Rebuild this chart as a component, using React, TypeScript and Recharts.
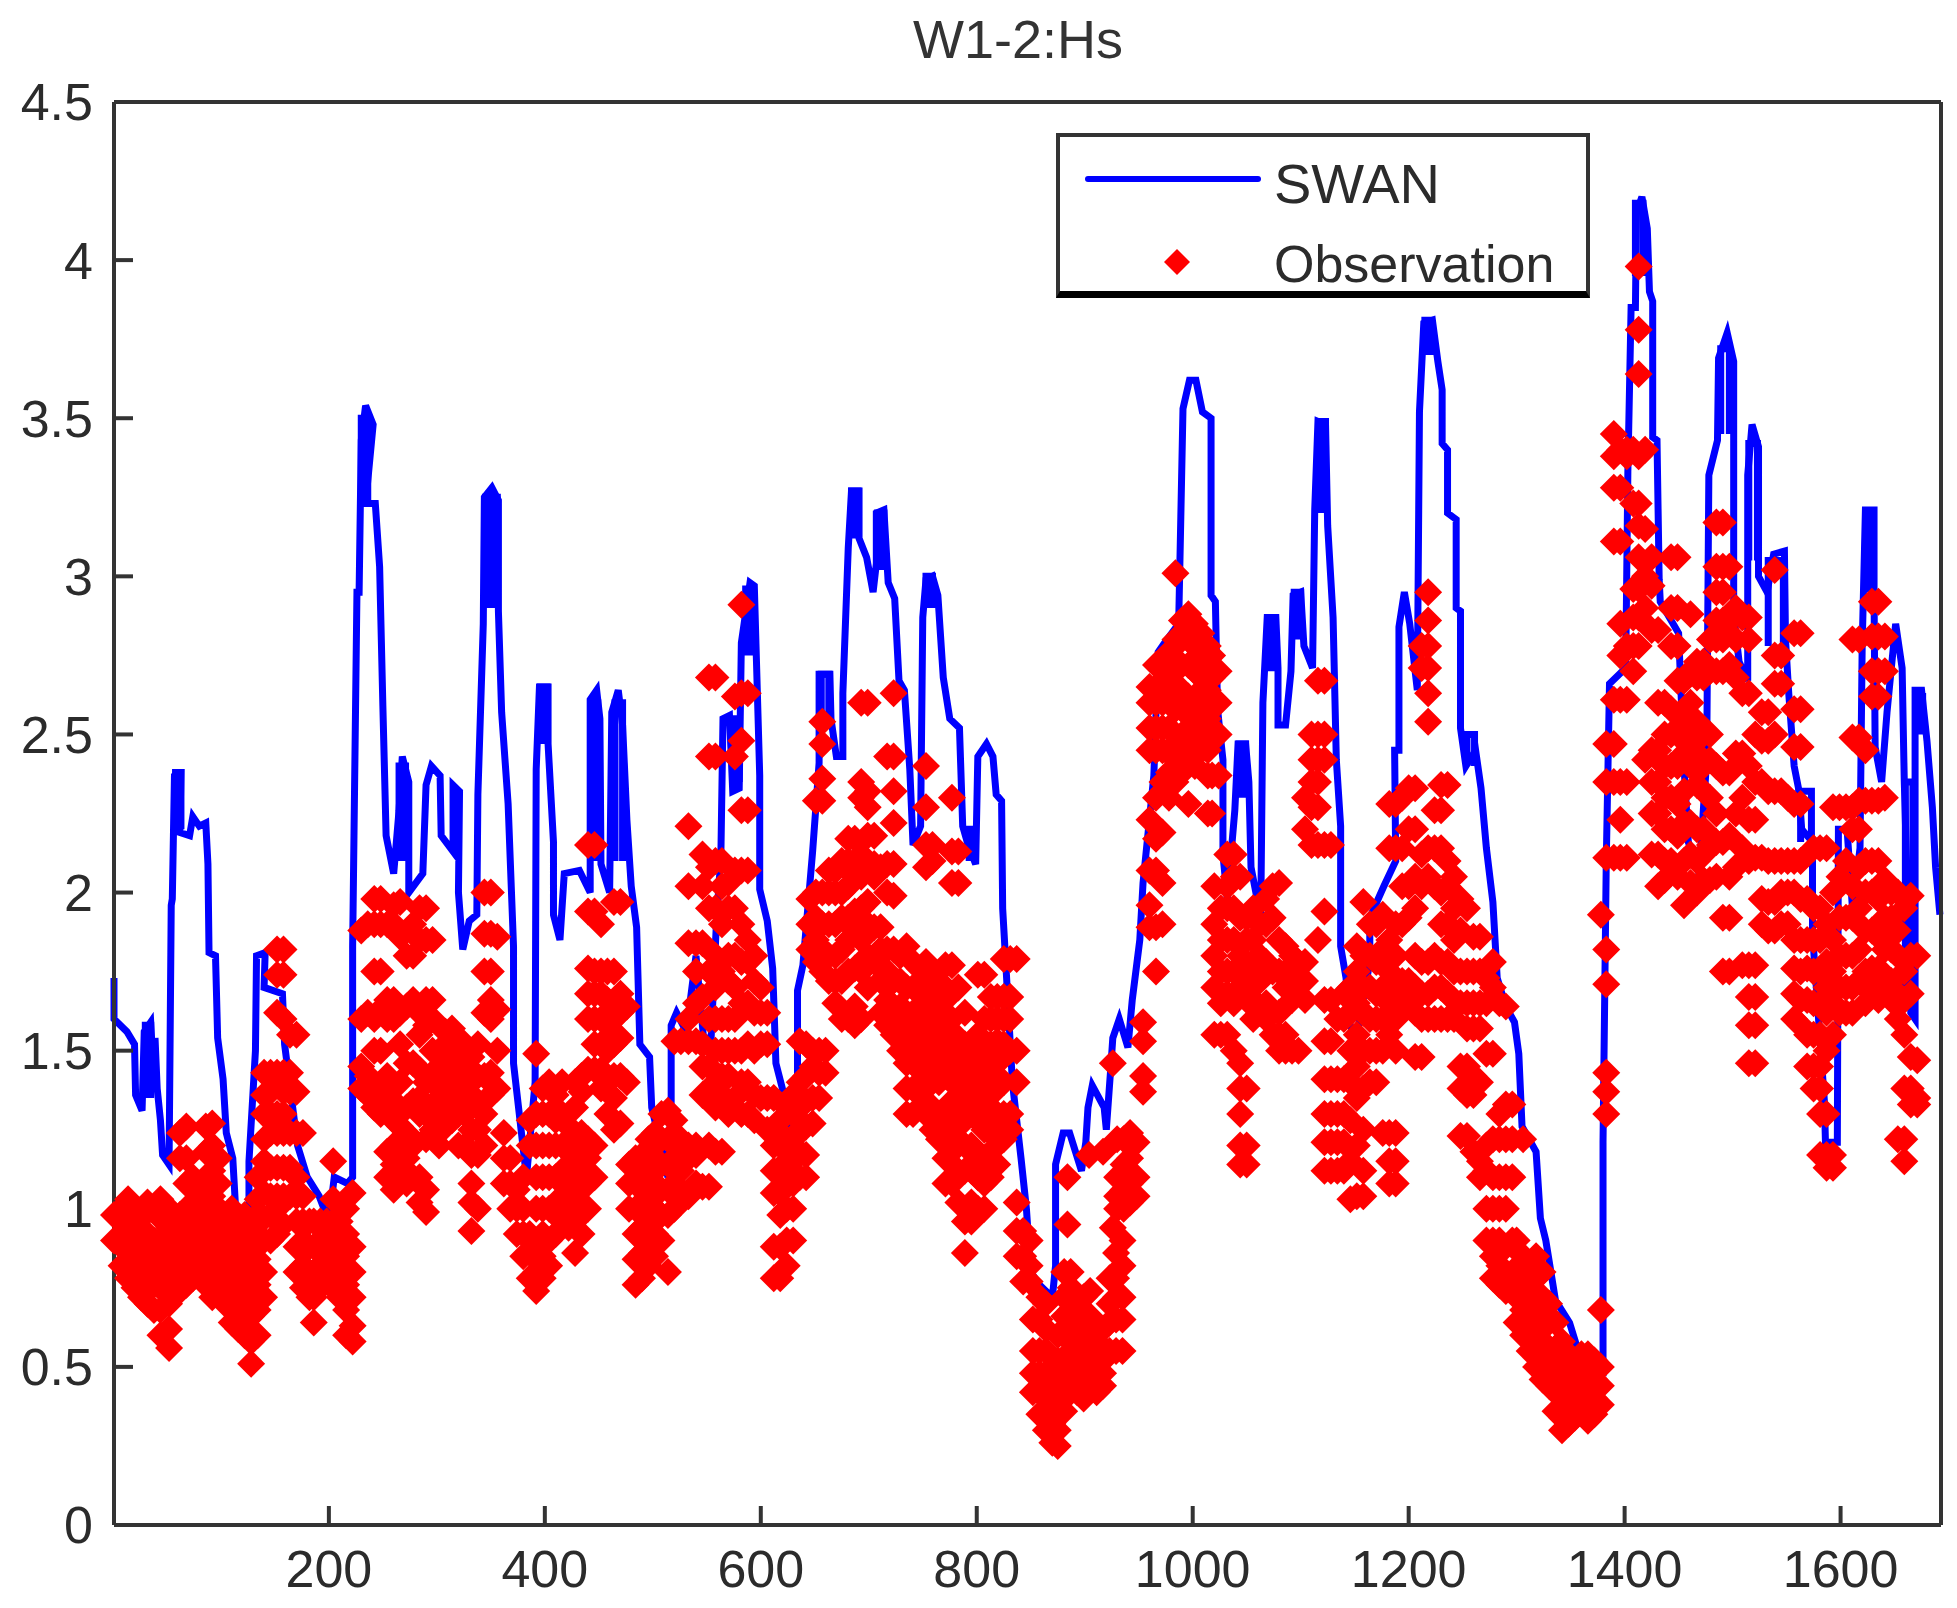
import { ComposedChart, Line, Scatter, XAxis, YAxis, Legend } from "recharts";

const xTicks = [200, 400, 600, 800, 1000, 1200, 1400, 1600];
const yTicks = [0, 0.5, 1, 1.5, 2, 2.5, 3, 3.5, 4, 4.5];

// SWAN model
const swanX = [
  1, 1, 13, 20, 21, 27, 29, 35, 38, 39, 41, 44, 46, 52, 54, 55, 57, 60, 63, 62, 71, 74, 80, 86, 88, 89, 95, 97, 102, 105, 111, 114, 120, 126, 126, 132, 133, 141, 140, 157, 159, 171, 180, 191, 200, 205, 217, 222, 222, 226, 228, 230, 234, 241, 234, 243, 247, 250, 253, 260, 265, 268, 274, 274, 287, 290, 295, 303, 304, 315, 315, 321, 320, 324, 330, 337, 338, 343, 344, 351, 357, 357, 360, 366, 371, 371, 377, 383, 391, 392, 395, 403, 403, 408, 408, 414, 418, 432, 442, 442, 448, 451, 452, 460, 462, 468, 472, 476, 480, 485, 488, 497, 499, 514, 517, 517, 522, 531, 540, 547, 554, 559, 563, 565, 571, 574, 580, 582, 590, 594, 596, 599, 599, 606, 611, 614, 620, 630, 634, 634, 639, 648, 654, 654, 664, 665, 670, 676, 676, 681, 684, 691, 691, 698, 704, 707, 707, 714, 718, 724, 728, 733, 738, 741, 748, 750, 753, 759, 764, 769, 775, 784, 787, 792, 799, 801, 809, 815, 818, 823, 824, 827, 833, 841, 846, 850, 858, 870, 873, 873, 880, 886, 897, 901, 903, 907, 918, 920, 924, 926, 932, 940, 944, 951, 954, 964, 968, 974, 987, 989, 991, 997, 1003, 1009, 1017, 1017, 1021, 1023, 1028, 1028, 1032, 1039, 1042, 1049, 1052, 1054, 1063, 1065, 1069, 1077, 1079, 1079, 1086, 1091, 1093, 1100, 1103, 1111, 1113, 1116, 1123, 1125, 1130, 1133, 1137, 1137, 1142, 1145, 1151, 1164, 1164, 1177, 1188, 1187, 1191, 1191, 1196, 1201, 1208, 1210, 1214, 1222, 1227, 1231, 1231, 1236, 1236, 1244, 1244, 1248, 1248, 1253, 1262, 1267, 1272, 1278, 1282, 1290, 1298, 1302, 1305, 1318, 1322, 1327, 1336, 1349, 1358, 1380, 1380, 1383, 1386, 1401, 1403, 1406, 1410, 1411, 1416, 1421, 1423, 1426, 1426, 1430, 1432, 1433, 1450, 1453, 1453, 1459, 1469, 1476, 1478, 1486, 1487, 1495, 1501, 1501, 1506, 1514, 1514, 1518, 1524, 1524, 1532, 1538, 1548, 1549, 1552, 1557, 1561, 1564, 1574, 1574, 1585, 1586, 1597, 1598, 1606, 1611, 1618, 1620, 1623, 1631, 1631, 1632, 1638, 1643, 1651, 1657, 1659, 1665, 1669, 1669, 1675, 1680, 1685, 1688, 1692,
];
const swanY = [
  1.73, 1.6, 1.56, 1.52, 1.36, 1.31, 1.56, 1.59, 1.4, 1.54, 1.38, 1.28, 1.17, 1.14, 1.96, 1.98, 2.37, 2.38, 2.38, 2.19, 2.18, 2.24, 2.21, 2.22, 2.09, 1.81, 1.8, 1.54, 1.41, 1.24, 1.16, 0.98, 0.95, 0.84, 1.15, 1.5, 1.8, 1.81, 1.7, 1.68, 1.52, 1.2, 1.1, 1.04, 0.96, 1.1, 1.08, 1.1, 1.83, 2.95, 2.95, 3.43, 3.54, 3.48, 3.23, 3.23, 3.03, 2.59, 2.18, 2.06, 2.26, 2.43, 2.35, 2.0, 2.06, 2.34, 2.4, 2.37, 2.18, 2.13, 2.34, 2.32, 2.0, 1.82, 1.91, 1.93, 2.31, 2.85, 3.25, 3.28, 3.24, 2.89, 2.57, 2.28, 1.83, 1.46, 1.28, 1.1, 1.4, 2.39, 2.65, 2.65, 2.47, 2.16, 1.93, 1.85, 2.06, 2.07, 2.0, 2.61, 2.64, 2.55, 2.09, 2.0, 2.57, 2.64, 2.53, 2.23, 2.02, 1.89, 1.52, 1.48, 1.32, 1.1, 1.34, 1.58, 1.62, 1.56, 1.8, 1.54, 1.54, 1.91, 2.11, 2.55, 2.56, 2.32, 2.33, 2.79, 2.98, 2.97, 2.73, 2.37, 2.01, 1.91, 1.76, 1.46, 1.38, 1.22, 1.4, 1.69, 1.77, 2.13, 2.41, 2.69, 2.69, 2.55, 2.43, 2.43, 2.63, 3.09, 3.27, 3.27, 3.12, 3.06, 2.95, 3.04, 3.2, 3.21, 2.98, 2.93, 2.67, 2.64, 2.39, 2.15, 2.21, 2.87, 2.99, 3.0, 2.94, 2.68, 2.55, 2.52, 2.21, 2.15, 2.09, 2.43, 2.47, 2.43, 2.31, 2.29, 1.95, 1.77, 1.4, 1.16, 1.0, 0.8, 0.76, 0.72, 0.82, 1.14, 1.24, 1.24, 1.12, 1.21, 1.32, 1.39, 1.32, 1.25, 1.44, 1.54, 1.6, 1.51, 1.66, 1.85, 2.03, 2.37, 2.76, 2.79, 2.85, 3.19, 3.53, 3.62, 3.62, 3.52, 3.5, 2.94, 2.92, 2.58, 2.42, 2.12, 1.98, 2.26, 2.47, 2.47, 2.35, 2.08, 1.92, 2.6, 2.87, 2.87, 2.71, 2.53, 2.53, 2.7, 2.94, 2.95, 2.78, 2.71, 3.21, 3.49, 3.48, 3.16, 2.87, 2.42, 2.21, 1.83, 1.73, 1.59, 1.53, 1.78, 1.92, 2.02, 2.1, 2.45, 2.45, 2.84, 2.95, 2.85, 2.64, 3.52, 3.8, 3.81, 3.68, 3.59, 3.42, 3.4, 3.2, 3.18, 2.9, 2.89, 2.52, 2.4, 2.45, 2.33, 2.14, 1.97, 1.73, 1.64, 1.59, 1.49, 1.26, 1.18, 0.97, 0.9, 0.71, 0.64, 0.54, 0.49, 1.21, 2.1, 2.66, 2.71, 3.33, 3.85, 3.85, 4.15, 4.2, 4.1, 3.9, 3.87, 3.44, 3.43, 2.99, 2.92, 2.82, 2.57, 2.52, 2.16, 2.06, 2.42, 3.32, 3.43, 3.69, 3.77, 3.68, 2.88, 2.73, 2.67, 3.32, 3.48, 3.41, 3.0, 2.95, 3.07, 3.08, 2.8, 2.63, 2.4, 2.33, 2.2, 2.16, 1.87, 1.34, 1.21, 1.21, 2.2, 2.2, 1.95, 2.14, 2.78, 3.21, 3.21, 2.95, 2.46, 2.35, 2.57, 2.85, 2.71, 2.35, 1.62, 1.6, 2.64, 2.64, 2.48, 2.27, 2.08, 1.93,
];

// stretches where the SWAN line doubles back on itself: from x, to x, low, high
const swanRidges: [number, number, number, number][] = [
  [30, 35, 1.35, 1.58],
  [58, 63, 2.2, 2.38],
  [230, 236, 3.23, 3.5],
  [265, 271, 2.1, 2.4],
  [345, 350, 2.9, 3.25],
  [351, 356, 2.9, 3.25],
  [396, 402, 2.47, 2.65],
  [443, 449, 2.1, 2.6],
  [465, 472, 2.1, 2.6],
  [575, 580, 2.35, 2.55],
  [586, 592, 2.75, 2.96],
  [656, 663, 2.55, 2.69],
  [684, 690, 3.12, 3.27],
  [708, 714, 3.02, 3.2],
  [753, 759, 2.9, 3.0],
  [793, 798, 2.1, 2.2],
  [1043, 1049, 2.3, 2.47],
  [1070, 1076, 2.7, 2.87],
  [1094, 1100, 2.8, 2.95],
  [1117, 1123, 3.2, 3.49],
  [1215, 1221, 3.7, 3.81],
  [1254, 1261, 2.4, 2.5],
  [1410, 1417, 3.95, 4.18],
  [1489, 1497, 3.45, 3.72],
  [1515, 1523, 3.05, 3.42],
  [1533, 1547, 2.78, 3.05],
  [1624, 1630, 2.95, 3.19],
  [1563, 1573, 2.16, 2.32],
  [1660, 1667, 1.7, 2.35],
  [1670, 1676, 2.5, 2.62],
];

// Observation values, one x with the values stacked above it
const obsColumns: [number, number[]][] = [
  [1, [0.9, 0.98]],
  [8, [0.82, 0.9, 1.0]],
  [14, [0.78, 0.86, 0.94, 1.03]],
  [20, [0.75, 0.85, 0.93, 1.0]],
  [26, [0.72, 0.8, 0.88, 0.97]],
  [32, [0.7, 0.78, 0.85, 0.92, 1.02]],
  [38, [0.68, 0.76, 0.84, 0.9, 1.0]],
  [44, [0.6, 0.68, 0.75, 0.82, 0.9, 0.97, 1.03]],
  [52, [0.56, 0.62, 0.7, 0.78, 0.86, 0.94, 1.0]],
  [62, [0.74, 0.82, 0.9, 0.98, 1.16, 1.24]],
  [68, [0.76, 0.85, 0.93, 1.0, 1.08, 1.16, 1.26]],
  [74, [0.78, 0.86, 0.94, 1.02, 1.1]],
  [80, [0.8, 0.88, 0.96, 1.04]],
  [86, [0.76, 0.84, 0.92, 1.0, 1.08, 1.18, 1.26]],
  [92, [0.72, 0.8, 0.88, 0.96, 1.04, 1.12, 1.2, 1.27]],
  [98, [0.76, 0.84, 0.92, 1.0, 1.08, 1.16]],
  [104, [0.7, 0.78, 0.86, 0.94]],
  [110, [0.64, 0.72, 0.8, 0.88, 0.96, 1.0]],
  [116, [0.62, 0.7, 0.78, 0.86, 0.94]],
  [122, [0.6, 0.68, 0.76, 0.84, 0.92, 0.98]],
  [128, [0.51, 0.58, 0.66, 0.74, 0.82, 0.9, 0.96]],
  [134, [0.6, 0.68, 0.76, 0.84, 0.92, 0.98, 1.03, 1.1]],
  [140, [0.72, 0.8, 0.9, 0.97, 1.05, 1.15, 1.22, 1.3, 1.36, 1.43]],
  [146, [0.9, 0.98, 1.04, 1.13, 1.24, 1.3, 1.37, 1.43]],
  [152, [0.92, 1.0, 1.04, 1.13, 1.24, 1.3, 1.43, 1.62, 1.74, 1.82]],
  [158, [0.95, 1.04, 1.13, 1.24, 1.3, 1.37, 1.43, 1.6, 1.74, 1.82]],
  [164, [1.04, 1.13, 1.24, 1.37, 1.43, 1.55]],
  [170, [0.8, 0.88, 0.96, 1.04, 1.1, 1.24, 1.37, 1.55]],
  [176, [0.75, 0.82, 0.9, 0.96, 1.04, 1.24]],
  [182, [0.72, 0.8, 0.88, 0.96]],
  [186, [0.64, 0.72, 0.8, 0.88, 0.96]],
  [192, [0.75, 0.82, 0.9, 0.96]],
  [198, [0.78, 0.85, 0.92, 0.96]],
  [204, [0.75, 0.82, 0.9, 0.96, 1.03, 1.15]],
  [210, [0.72, 0.8, 0.88, 0.96]],
  [216, [0.6, 0.68, 0.76, 0.85, 0.92, 1.0]],
  [222, [0.58, 0.63, 0.72, 0.8, 0.88, 1.05]],
  [230, [1.38, 1.45, 1.6, 1.88]],
  [236, [1.36, 1.42, 1.62, 1.9]],
  [242, [1.32, 1.4, 1.5, 1.6, 1.75, 1.9, 1.98]],
  [248, [1.3, 1.38, 1.5, 1.63, 1.75, 1.9, 1.98]],
  [254, [1.1, 1.18, 1.36, 1.42, 1.6, 1.66, 1.9]],
  [260, [1.06, 1.14, 1.2, 1.28, 1.34, 1.6, 1.66, 1.9, 1.96]],
  [266, [1.1, 1.18, 1.26, 1.4, 1.52, 1.62, 1.86, 1.97]],
  [272, [1.08, 1.16, 1.24, 1.32, 1.46, 1.64, 1.8]],
  [278, [1.1, 1.2, 1.34, 1.46, 1.66, 1.8, 1.9]],
  [284, [1.02, 1.1, 1.3, 1.35, 1.44, 1.55, 1.62, 1.85, 1.95]],
  [290, [0.99, 1.06, 1.22, 1.3, 1.4, 1.58, 1.66, 1.85, 1.95]],
  [296, [1.25, 1.32, 1.4, 1.5, 1.6, 1.66, 1.85]],
  [302, [1.2, 1.28, 1.35, 1.45, 1.5]],
  [308, [1.26, 1.32, 1.4, 1.5, 1.56]],
  [314, [1.28, 1.36, 1.44, 1.52, 1.57]],
  [320, [1.2, 1.3, 1.38, 1.46, 1.54]],
  [326, [1.2, 1.3, 1.38, 1.46, 1.5]],
  [332, [0.93, 1.02, 1.08, 1.17, 1.25, 1.34, 1.42, 1.48]],
  [338, [1.0, 1.17, 1.25, 1.34, 1.42, 1.52]],
  [344, [1.2, 1.3, 1.42, 1.62, 1.75, 1.87, 2.0]],
  [350, [1.36, 1.43, 1.6, 1.66, 1.75, 1.87, 2.0]],
  [356, [1.38, 1.5, 1.63, 1.86]],
  [362, [1.08, 1.16, 1.24]],
  [368, [1.0, 1.08, 1.16]],
  [374, [0.92, 1.0, 1.06]],
  [380, [0.85, 0.92, 1.0, 1.1]],
  [386, [0.78, 0.86, 0.92, 1.2, 1.28]],
  [392, [0.74, 0.8, 0.9, 1.0, 1.1, 1.2, 1.3, 1.49]],
  [398, [0.78, 0.85, 0.92, 1.0, 1.1, 1.2, 1.3, 1.38]],
  [404, [0.82, 0.9, 1.0, 1.1, 1.2, 1.3, 1.4]],
  [410, [0.92, 1.0, 1.1, 1.2, 1.28, 1.36]],
  [416, [0.96, 1.04, 1.12, 1.2, 1.3, 1.4]],
  [422, [0.94, 1.02, 1.1, 1.18, 1.26]],
  [428, [0.86, 0.96, 1.04, 1.12, 1.2, 1.32, 1.4]],
  [434, [0.92, 1.0, 1.08, 1.16, 1.24, 1.37, 1.42]],
  [440, [1.0, 1.08, 1.16, 1.22, 1.44, 1.6, 1.68, 1.76, 1.94, 2.15]],
  [446, [1.1, 1.2, 1.44, 1.52, 1.6, 1.68, 1.75, 1.94, 2.15]],
  [452, [1.38, 1.44, 1.52, 1.6, 1.68, 1.75, 1.9]],
  [458, [1.3, 1.4, 1.5, 1.58, 1.66, 1.75]],
  [464, [1.25, 1.35, 1.42, 1.52, 1.6, 1.64, 1.75, 1.97]],
  [470, [1.27, 1.42, 1.54, 1.62, 1.68, 1.97]],
  [476, [1.4, 1.64]],
  [478, [1.0, 1.08, 1.14]],
  [484, [0.76, 0.84, 0.92, 1.0, 1.08, 1.16]],
  [490, [0.78, 0.86, 0.94, 1.02, 1.1, 1.17]],
  [496, [0.82, 0.9, 0.98, 1.06, 1.14, 1.22]],
  [502, [0.85, 0.92, 1.0, 1.08, 1.16, 1.24]],
  [508, [0.9, 0.98, 1.06, 1.14, 1.22, 1.3]],
  [514, [0.8, 0.98, 1.06, 1.14, 1.22, 1.31]],
  [520, [1.0, 1.08, 1.16, 1.22, 1.28, 1.53]],
  [526, [1.05, 1.12, 1.18, 1.22, 1.53]],
  [533, [1.04, 1.16, 1.2, 1.53, 1.6, 1.84, 2.02, 2.21]],
  [540, [1.08, 1.17, 1.2, 1.53, 1.65, 1.75, 1.84]],
  [546, [1.07, 1.36, 1.45, 1.52, 1.67, 1.84, 2.02, 2.12]],
  [552, [1.07, 1.2, 1.36, 1.45, 1.6, 1.75, 1.95, 2.08, 2.43, 2.68]],
  [558, [1.18, 1.32, 1.4, 1.5, 1.6, 1.7, 1.8, 1.95, 2.1, 2.43, 2.68]],
  [564, [1.18, 1.36, 1.42, 1.5, 1.6, 1.75, 1.9, 2.02, 2.1]],
  [570, [1.3, 1.42, 1.5, 1.6, 1.72, 1.8, 1.95, 2.03]],
  [576, [1.35, 1.5, 1.6, 1.7, 1.8, 1.95, 2.07, 2.43, 2.62]],
  [582, [1.3, 1.4, 1.5, 1.65, 1.78, 1.9, 2.07, 2.26, 2.48, 2.63, 2.91]],
  [588, [1.3, 1.4, 1.52, 1.65, 1.78, 1.85, 2.07, 2.26, 2.63]],
  [594, [1.28, 1.36, 1.5, 1.62, 1.72, 1.8]],
  [600, [1.35, 1.52, 1.62, 1.7]],
  [606, [1.25, 1.35, 1.52, 1.62]],
  [612, [0.78, 0.88, 1.05, 1.12, 1.2, 1.25, 1.35]],
  [618, [0.78, 0.88, 0.98, 1.05, 1.12, 1.2, 1.28]],
  [624, [0.82, 0.9, 1.0, 1.08, 1.15, 1.22, 1.32]],
  [630, [0.9, 1.0, 1.08, 1.15, 1.22, 1.3, 1.36]],
  [636, [1.1, 1.18, 1.25, 1.32, 1.4, 1.53]],
  [642, [1.1, 1.17, 1.26, 1.34, 1.42, 1.52]],
  [645, [1.82, 1.9, 1.98]],
  [648, [1.27, 1.35, 1.45, 1.5]],
  [651, [1.78, 1.85, 1.92, 2.0, 2.29]],
  [654, [1.35, 1.43, 1.5]],
  [657, [1.75, 1.82, 1.9, 2.0, 2.29, 2.36, 2.47, 2.54]],
  [660, [1.43, 1.5]],
  [663, [1.72, 1.8, 1.9, 2.0, 2.07]],
  [669, [1.65, 1.72, 1.8, 1.9, 2.0, 2.07]],
  [675, [1.6, 1.72, 1.82, 1.92, 2.0, 2.1]],
  [681, [1.6, 1.75, 1.85, 1.92, 2.02, 2.1, 2.17]],
  [687, [1.58, 1.64, 1.76, 1.88, 1.94, 2.05, 2.09, 2.17]],
  [693, [1.6, 1.75, 1.85, 1.95, 2.05, 2.12, 2.3, 2.35, 2.6]],
  [699, [1.7, 1.8, 1.9, 1.97, 2.09, 2.18, 2.27, 2.32, 2.6]],
  [705, [1.78, 1.89, 2.05, 2.09, 2.18]],
  [711, [1.62, 1.72, 1.82, 1.89, 2.08]],
  [717, [1.58, 1.66, 1.75, 1.82, 2.0, 2.09, 2.43]],
  [723, [1.55, 1.64, 1.72, 1.82, 1.99, 2.09, 2.22, 2.32, 2.43, 2.63]],
  [729, [1.5, 1.58, 1.64, 1.72, 1.8]],
  [735, [1.3, 1.38, 1.46, 1.54, 1.62, 1.7, 1.83]],
  [741, [1.3, 1.38, 1.46, 1.54, 1.62, 1.7, 1.78]],
  [747, [1.36, 1.44, 1.52, 1.6, 1.68, 1.76]],
  [753, [1.3, 1.38, 1.46, 1.54, 1.62, 1.7, 1.78, 2.08, 2.15, 2.27, 2.4]],
  [759, [1.25, 1.32, 1.42, 1.5, 1.58, 1.66, 1.75, 2.1, 2.15]],
  [765, [1.22, 1.3, 1.4, 1.48, 1.56, 1.64, 1.72]],
  [771, [1.08, 1.16, 1.3, 1.42, 1.5, 1.58, 1.66, 1.77]],
  [777, [1.08, 1.18, 1.26, 1.34, 1.42, 1.5, 1.6, 1.77, 2.03, 2.13, 2.3]],
  [783, [1.02, 1.12, 1.22, 1.3, 1.38, 1.46, 1.54, 1.7, 2.03, 2.13]],
  [789, [0.86, 0.96, 1.12, 1.2, 1.28, 1.36, 1.44, 1.52, 1.62]],
  [795, [0.96, 1.02, 1.12, 1.2, 1.3, 1.38, 1.46]],
  [801, [1.0, 1.1, 1.16, 1.28, 1.36, 1.48, 1.55, 1.74]],
  [807, [1.0, 1.08, 1.16, 1.25, 1.34, 1.42, 1.5, 1.6, 1.74]],
  [813, [1.1, 1.18, 1.26, 1.36, 1.44, 1.52, 1.6, 1.67]],
  [819, [1.14, 1.22, 1.3, 1.38, 1.46, 1.53, 1.6, 1.67]],
  [825, [1.22, 1.3, 1.4, 1.52, 1.6, 1.67, 1.79]],
  [831, [1.25, 1.3, 1.5, 1.6, 1.67, 1.79]],
  [837, [0.85, 0.93, 1.02, 1.4, 1.5, 1.79]],
  [843, [0.77, 0.85, 0.93]],
  [849, [0.77, 0.82, 0.9]],
  [852, [0.42, 0.48, 0.55, 0.65]],
  [858, [0.35, 0.42, 0.48, 0.55, 0.65, 0.72]],
  [864, [0.3, 0.35, 0.42, 0.48, 0.55, 0.62, 0.7]],
  [870, [0.26, 0.32, 0.38, 0.44, 0.5]],
  [875, [0.25, 0.3, 0.38, 0.45, 0.52, 0.6]],
  [881, [0.36, 0.42, 0.5, 0.6, 0.66, 0.72, 0.8]],
  [884, [0.95, 1.1]],
  [887, [0.42, 0.48, 0.55, 0.62, 0.68, 0.75, 0.8]],
  [893, [0.42, 0.48, 0.54, 0.6, 0.66, 0.72]],
  [899, [0.4, 0.44, 0.48, 0.54, 0.6, 0.66, 0.72]],
  [904, [1.17]],
  [905, [0.44, 0.5, 0.58, 0.66, 0.74]],
  [911, [0.42, 0.5, 0.55, 0.6]],
  [917, [0.44, 0.48, 0.52, 0.56, 0.62, 1.18]],
  [923, [0.55, 0.64, 0.7, 0.78]],
  [926, [0.94, 1.46]],
  [929, [0.55, 0.65, 0.72, 0.78, 0.86]],
  [930, [1.0, 1.04, 1.1, 1.22]],
  [935, [0.55, 0.65, 0.72, 0.82, 0.9]],
  [936, [1.0, 1.06, 1.14, 1.22]],
  [942, [1.02, 1.08, 1.16, 1.24]],
  [948, [1.04, 1.1, 1.21]],
  [954, [1.37, 1.42, 1.53, 1.59]],
  [960, [1.89, 1.96, 2.07, 2.23, 2.45, 2.52, 2.6, 2.65]],
  [966, [1.75, 1.89, 2.07, 2.17, 2.3, 2.45, 2.52, 2.6, 2.65, 2.72]],
  [972, [1.9, 2.03, 2.19, 2.35, 2.45, 2.52, 2.6, 2.66, 2.72]],
  [978, [2.3, 2.38, 2.45, 2.52, 2.6, 2.7, 2.76]],
  [984, [2.35, 2.42, 2.5, 2.58, 2.66, 2.72, 2.8, 3.01]],
  [990, [2.38, 2.44, 2.5, 2.58, 2.63, 2.72, 2.8, 2.86]],
  [996, [2.28, 2.42, 2.5, 2.56, 2.62, 2.72, 2.8, 2.88]],
  [1002, [2.4, 2.46, 2.54, 2.62, 2.7, 2.78, 2.85]],
  [1008, [2.45, 2.52, 2.6, 2.68, 2.76, 2.82]],
  [1014, [2.25, 2.37, 2.45, 2.55, 2.64, 2.72, 2.78]],
  [1018, [2.25, 2.37, 2.5, 2.6, 2.68, 2.75]],
  [1020, [1.55, 1.7, 1.8, 1.9, 2.02]],
  [1024, [2.37, 2.5, 2.6, 2.7]],
  [1026, [1.55, 1.65, 1.75, 1.85, 1.95]],
  [1032, [1.55, 1.68, 1.75, 1.85, 1.95, 2.02, 2.12]],
  [1038, [1.5, 1.65, 1.75, 1.85, 1.95, 2.05, 2.12]],
  [1044, [1.14, 1.2, 1.3, 1.38, 1.46, 1.7, 1.8, 1.92, 2.05]],
  [1050, [1.14, 1.2, 1.38, 1.66, 1.75, 1.85, 1.92]],
  [1056, [1.6, 1.66, 1.78, 1.85, 1.95]],
  [1062, [1.62, 1.72, 1.8, 1.9]],
  [1068, [1.6, 1.65, 1.78, 1.9, 1.98]],
  [1074, [1.55, 1.62, 1.75, 1.92, 2.02]],
  [1080, [1.5, 1.55, 1.62, 1.75, 1.85, 2.03]],
  [1086, [1.5, 1.55, 1.7, 1.75, 1.83]],
  [1092, [1.5, 1.66, 1.74, 1.8]],
  [1098, [1.5, 1.72, 1.78]],
  [1104, [1.66, 1.72, 1.78, 2.2, 2.3]],
  [1110, [2.15, 2.27, 2.35, 2.42, 2.5]],
  [1116, [1.85, 2.15, 2.27, 2.35, 2.42, 2.5, 2.67]],
  [1122, [1.12, 1.21, 1.3, 1.41, 1.53, 1.66, 1.94, 2.15, 2.42, 2.5, 2.67]],
  [1128, [1.12, 1.21, 1.3, 1.41, 1.53, 1.66, 2.15]],
  [1134, [1.12, 1.21, 1.3, 1.41, 1.6]],
  [1140, [1.12, 1.21, 1.3, 1.41, 1.6, 1.68]],
  [1146, [1.03, 1.15, 1.28, 1.4, 1.5, 1.62, 1.7]],
  [1152, [1.04, 1.2, 1.35, 1.45, 1.55, 1.65, 1.75, 1.83]],
  [1158, [1.04, 1.12, 1.25, 1.38, 1.5, 1.62, 1.7, 1.8, 1.97]],
  [1164, [1.4, 1.5, 1.6, 1.7, 1.8, 1.9]],
  [1170, [1.4, 1.5, 1.6, 1.68, 1.78, 1.9]],
  [1176, [1.24, 1.5, 1.6, 1.7, 1.82, 1.93]],
  [1182, [1.08, 1.15, 1.24, 1.55, 1.65, 1.75, 1.85, 2.14, 2.28]],
  [1188, [1.08, 1.15, 1.24, 1.5, 1.6, 1.7, 1.8, 1.9, 2.14, 2.28]],
  [1194, [1.66, 1.72, 1.9, 2.02, 2.14, 2.3]],
  [1200, [1.72, 1.92, 2.02, 2.2, 2.33]],
  [1206, [1.48, 1.62, 1.7, 1.8, 1.95, 2.05, 2.2, 2.33]],
  [1212, [1.48, 1.6, 1.68, 1.78, 2.02, 2.12, 2.71, 2.78]],
  [1218, [1.6, 1.68, 1.78, 2.05, 2.14, 2.54, 2.63, 2.71, 2.78, 2.86, 2.95]],
  [1224, [1.6, 1.7, 1.8, 2.02, 2.14, 2.26]],
  [1230, [1.6, 1.7, 1.78, 1.9, 2.0, 2.14, 2.26, 2.34]],
  [1236, [1.6, 1.68, 1.78, 1.9, 2.02, 2.1, 2.34]],
  [1242, [1.6, 1.66, 1.75, 1.85, 1.95, 2.05]],
  [1248, [1.23, 1.38, 1.45, 1.65, 1.75, 1.88, 1.98]],
  [1254, [1.23, 1.36, 1.45, 1.57, 1.65, 1.75, 1.95]],
  [1260, [1.18, 1.36, 1.42, 1.57, 1.65, 1.75, 1.86]],
  [1266, [1.1, 1.15, 1.4, 1.57, 1.65, 1.75, 1.86]],
  [1272, [0.9, 1.0, 1.12, 1.2, 1.49, 1.65, 1.73]],
  [1278, [0.78, 0.85, 0.9, 1.0, 1.1, 1.22, 1.49, 1.7, 1.78]],
  [1284, [0.76, 0.82, 0.9, 1.0, 1.1, 1.22, 1.3, 1.65]],
  [1290, [0.74, 0.8, 0.88, 1.0, 1.1, 1.22, 1.33, 1.64]],
  [1296, [0.74, 0.8, 0.9, 1.1, 1.22, 1.33]],
  [1300, [0.64, 0.72, 0.8, 0.9]],
  [1306, [0.6, 0.68, 0.75, 0.85, 1.22]],
  [1312, [0.55, 0.6, 0.68, 0.75, 0.82]],
  [1318, [0.5, 0.55, 0.62, 0.7, 0.78, 0.85]],
  [1324, [0.46, 0.5, 0.58, 0.65, 0.72, 0.8]],
  [1330, [0.44, 0.5, 0.56, 0.64, 0.7]],
  [1336, [0.36, 0.42, 0.5, 0.56, 0.64]],
  [1342, [0.3, 0.34, 0.4, 0.46, 0.52, 0.58]],
  [1348, [0.32, 0.36, 0.42, 0.48, 0.54]],
  [1354, [0.34, 0.4, 0.46, 0.52]],
  [1360, [0.38, 0.44, 0.5, 0.54]],
  [1366, [0.33, 0.36, 0.42, 0.48, 0.54]],
  [1372, [0.35, 0.4, 0.46, 0.52]],
  [1378, [0.38, 0.44, 0.5, 0.68, 1.93]],
  [1383, [1.3, 1.37, 1.43, 1.71, 1.82, 2.11, 2.35, 2.47]],
  [1390, [2.11, 2.35, 2.47, 2.61, 3.11, 3.28, 3.38, 3.45]],
  [1396, [2.11, 2.23, 2.35, 2.61, 2.75, 2.85, 3.11, 3.28, 3.4]],
  [1402, [2.11, 2.35, 2.61, 2.78, 3.38, 3.4]],
  [1408, [2.7, 2.78, 2.87, 2.96, 3.23, 3.4]],
  [1413, [2.78, 2.87, 2.96, 3.06, 3.16, 3.23, 3.38, 3.64, 3.78, 3.98]],
  [1419, [2.42, 2.9, 3.0, 3.15, 3.4]],
  [1425, [2.12, 2.25, 2.35, 2.45, 2.83, 2.97, 3.06]],
  [1431, [2.02, 2.12, 2.25, 2.35, 2.45, 2.6, 2.83]],
  [1437, [2.04, 2.1, 2.2, 2.3, 2.4, 2.5, 2.6]],
  [1443, [2.1, 2.2, 2.3, 2.4, 2.5, 2.58, 2.78, 2.9, 3.06]],
  [1449, [2.05, 2.18, 2.28, 2.4, 2.5, 2.67, 2.78, 2.9, 3.06]],
  [1455, [1.96, 2.1, 2.22, 2.32, 2.44, 2.54, 2.67]],
  [1461, [2.03, 2.12, 2.22, 2.4, 2.5, 2.6, 2.7, 2.88]],
  [1467, [2.0, 2.1, 2.2, 2.34, 2.44, 2.54, 2.68, 2.73]],
  [1473, [2.04, 2.12, 2.2, 2.4, 2.5, 2.68, 2.73]],
  [1479, [2.04, 2.15, 2.3, 2.42, 2.5, 2.7, 2.8]],
  [1485, [2.05, 2.16, 2.25, 2.4, 2.7, 2.8, 2.86, 2.95, 3.03, 3.17]],
  [1491, [1.75, 1.92, 2.16, 2.38, 2.7, 2.8, 2.86, 2.95, 3.03, 3.17]],
  [1497, [1.75, 1.92, 2.05, 2.18, 2.38, 2.72, 2.86, 3.03]],
  [1503, [2.08, 2.25, 2.44, 2.68, 2.8, 2.9]],
  [1509, [1.77, 2.14, 2.3, 2.44, 2.63, 2.87]],
  [1515, [1.46, 1.58, 1.67, 1.77, 2.1, 2.23, 2.4, 2.63, 2.8, 2.87]],
  [1521, [1.46, 1.58, 1.67, 1.77, 2.11, 2.23, 2.35, 2.5]],
  [1527, [1.9, 1.98, 2.11, 2.35, 2.48, 2.57]],
  [1533, [1.88, 1.97, 2.1, 2.32, 2.48, 2.57]],
  [1539, [1.88, 1.97, 2.1, 2.32, 2.5, 2.66, 2.75, 3.02]],
  [1545, [1.9, 2.0, 2.1, 2.32, 2.66, 2.75]],
  [1551, [1.9, 2.0, 2.1, 2.3]],
  [1557, [1.6, 1.68, 1.76, 1.85, 2.0, 2.1, 2.28, 2.46, 2.58, 2.82]],
  [1563, [1.58, 1.66, 1.75, 1.85, 1.98, 2.1, 2.28, 2.46, 2.58, 2.82]],
  [1569, [1.45, 1.55, 1.66, 1.76, 1.85, 1.98]],
  [1575, [1.38, 1.45, 1.55, 1.65, 1.75, 1.85, 1.95, 2.14]],
  [1581, [1.17, 1.3, 1.38, 1.45, 1.55, 1.65, 1.75, 1.85, 1.95, 2.14]],
  [1587, [1.13, 1.17, 1.3, 1.5, 1.62, 1.7, 1.78, 1.9, 2.14]],
  [1593, [1.13, 1.17, 1.55, 1.65, 1.75, 1.85, 2.0, 2.27]],
  [1599, [1.62, 1.7, 1.8, 1.92, 2.05, 2.27]],
  [1605, [1.62, 1.7, 1.8, 1.92, 2.1, 2.27]],
  [1611, [1.62, 1.7, 1.8, 1.92, 2.02, 2.2, 2.27, 2.49, 2.8]],
  [1617, [1.72, 1.82, 1.95, 2.08, 2.2, 2.29, 2.49, 2.8]],
  [1623, [1.65, 1.75, 1.88, 2.0, 2.1, 2.29, 2.45]],
  [1629, [1.68, 1.76, 1.88, 2.0, 2.1, 2.29, 2.62, 2.7, 2.81, 2.92]],
  [1635, [1.66, 1.76, 1.86, 1.98, 2.1, 2.29, 2.62, 2.7, 2.81, 2.92]],
  [1641, [1.72, 1.82, 1.92, 2.04, 2.3, 2.7, 2.81]],
  [1647, [1.66, 1.72, 1.82, 1.92, 2.0]],
  [1653, [1.22, 1.6, 1.68, 1.8, 1.88, 2.0]],
  [1659, [1.15, 1.22, 1.38, 1.55, 1.66, 1.75, 1.95]],
  [1665, [1.33, 1.38, 1.48, 1.68, 1.8, 1.99]],
  [1671, [1.33, 1.35, 1.47, 1.8]],
];

const swanData = swanX.map((x, i) => ({ x, y: swanY[i] }));
const ridgeData = swanRidges.flatMap(([x1, x2, low, high]) => [
  { x: x1, y: low },
  { x: x1, y: high },
  { x: x2, y: high },
  { x: x2, y: low },
  { x: x2, y: null },
]);
const obsData = obsColumns.flatMap(([x, ys]) => ys.map((y) => ({ x, y })));

const FONT = "'Liberation Sans', Arial, sans-serif";
const TEXT_COLOR = "#2b2b2b";
const AXIS_COLOR = "#333333";
const DIAMOND = 14;

const diamond = (props: any) => {
  const { cx, cy } = props;
  return (
    <polygon
      points={`${cx - DIAMOND},${cy} ${cx},${cy - DIAMOND} ${cx + DIAMOND},${cy} ${cx},${cy + DIAMOND}`}
      fill="#ff0000"
    />
  );
};

const legendContent = () => (
  <div
    style={{
      width: 534,
      height: 165,
      boxSizing: "border-box",
      borderTop: "4px solid #333",
      borderLeft: "4px solid #333",
      borderRight: "4px solid #333",
      borderBottom: "7px solid #000",
      background: "#fff",
      position: "relative",
      fontFamily: FONT,
      fontSize: 52,
      color: TEXT_COLOR,
      lineHeight: "60px",
    }}
  >
    <svg width={220} height={154} style={{ position: "absolute", left: 0, top: 0 }}>
      <line x1={28} y1={42} x2={198} y2={42} stroke="#0000ff" strokeWidth={6} strokeLinecap="round" />
      <polygon points="104,125 117,112 130,125 117,138" fill="#ff0000" />
    </svg>
    <span style={{ position: "absolute", left: 214, top: 17, fontSize: 56 }}>SWAN</span>
    <span style={{ position: "absolute", left: 214, top: 97 }}>Observation</span>
  </div>
);

export default function App() {
  return (
    <div style={{ position: "absolute", left: 0, top: 0, width: 1957, height: 1608, background: "#fff" }}>
      <div
        style={{
          position: "absolute",
          left: 0,
          width: 2036,
          top: 8,
          textAlign: "center",
          fontFamily: FONT,
          fontSize: 54,
          color: "#333",
        }}
      >
        W1-2:Hs
      </div>
      <ComposedChart width={1957} height={1608} margin={{ top: 0, right: 0, bottom: 0, left: 0 }}>
        <XAxis
          dataKey="x"
          type="number"
          domain={[1, 1693]}
          ticks={xTicks}
          interval={0}
          height={83}
          tickSize={-19}
          tickMargin={44}
          stroke={AXIS_COLOR}
          strokeWidth={4}
          tick={{ fontSize: 52, fontFamily: FONT, fill: TEXT_COLOR }}
        />
        <XAxis
          xAxisId="top"
          orientation="top"
          dataKey="x"
          type="number"
          domain={[1, 1693]}
          ticks={xTicks}
          interval={0}
          height={102}
          tickSize={-19}
          tick={false}
          stroke={AXIS_COLOR}
          strokeWidth={4}
        />
        <YAxis
          type="number"
          domain={[0, 4.5]}
          ticks={yTicks}
          interval={0}
          width={114}
          tickSize={-19}
          tickMargin={40}
          stroke={AXIS_COLOR}
          strokeWidth={4}
          tick={{ fontSize: 52, fontFamily: FONT, fill: TEXT_COLOR }}
        />
        <YAxis
          yAxisId="right"
          orientation="right"
          type="number"
          domain={[0, 4.5]}
          ticks={yTicks}
          interval={0}
          width={16}
          tickSize={-19}
          tick={false}
          stroke={AXIS_COLOR}
          strokeWidth={4}
        />
        <Line
          data={swanData}
          dataKey="y"
          name="SWAN"
          type="linear"
          stroke="#0000ff"
          strokeWidth={7}
          dot={false}
          isAnimationActive={false}
        />
        <Line
          data={ridgeData}
          dataKey="y"
          legendType="none"
          type="linear"
          stroke="#0000ff"
          strokeWidth={7}
          dot={false}
          isAnimationActive={false}
        />
        <Scatter
          data={obsData}
          dataKey="y"
          name="Observation"
          shape={diamond}
          isAnimationActive={false}
        />
        <Legend
          layout="vertical"
          align="center"
          verticalAlign="middle"
          content={legendContent}
          wrapperStyle={{ left: 1056, top: 133, width: 534, height: 165 }}
        />
      </ComposedChart>
    </div>
  );
}
